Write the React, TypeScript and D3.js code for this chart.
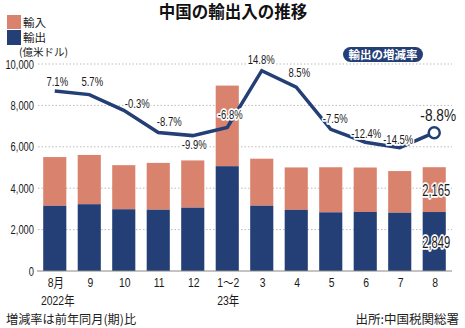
import React from "react";
import * as d3 from "d3";

const categories = ["8月", "9", "10", "11", "12", "1～2", "3", "4", "5", "6", "7", "8"];
const exportsVal = [3149, 3227, 2983, 2961, 3060, 5063, 3155, 2954, 2835, 2853, 2817, 2849];
const importsVal = [2355, 2380, 2130, 2262, 2282, 3894, 2271, 2049, 2177, 2147, 2011, 2165];
const growth = [7.1, 5.7, -0.3, -8.7, -9.9, -6.8, 14.8, 8.5, -7.5, -12.4, -14.5, -8.8];
const growthLabels = ["7.1%", "5.7%", "-0.3%", "-8.7%", "-9.9%", "-6.8%", "14.8%", "8.5%", "-7.5%", "-12.4%", "-14.5%", "-8.8%"];
const yTicks = [0, 2000, 4000, 6000, 8000, 10000];

// label offsets (dx, dy) relative to line points
const labelOffsets: [number, number][] = [
  [2.5, -5], [3, -8.6], [13.5, -2.4], [11, -6.5], [1.5, 13.4], [3, -8.5],
  [-0.5, -6.7], [3, -10.3], [4.5, -6.3], [1, -4.2], [-1.5, -3.7], [4, -11.7],
];

const NAVY = "#243f76";
const SALMON = "#d9836e";
const NUM_FONT = "'Liberation Sans', 'Noto Sans CJK JP', sans-serif";
const JP_FONT = "'Noto Sans CJK JP', sans-serif";

type NTProps = {
  x: number; y: number; size: number; anchor?: "start" | "middle" | "end";
  sx?: number; halo?: boolean; weight?: number; children: React.ReactNode;
};
function NT({ x, y, size, anchor = "middle", sx = 0.75, halo = false, weight = 400, children }: NTProps) {
  return (
    <text
      transform={`translate(${x},${y}) scale(${sx},1)`}
      textAnchor={anchor}
      fontFamily={NUM_FONT}
      fontSize={size}
      fontWeight={weight}
      fill="#1a1a1a"
      style={halo ? { paintOrder: "stroke", stroke: "#fff", strokeWidth: 3.5, strokeLinejoin: "round" } : undefined}
    >
      {children}
    </text>
  );
}

export default function App() {
  const W = 465, H = 328;
  const x = d3.scaleBand<string>().domain(categories).range([37, 452]).paddingInner(0.33).paddingOuter(0.18);
  const y = d3.scaleLinear().domain([0, 10000]).range([271, 64]);
  const yl = d3.scaleLinear().domain([-14.5, 14.8]).range([147.7, 70.7]);
  const cx = (c: string) => (x(c) as number) + x.bandwidth() / 2;
  const line = d3.line<number>().x((_, i) => cx(categories[i])).y((v) => yl(v));
  const fmt = d3.format(",");
  const last = categories.length - 1;

  return (
    <svg width={W} height={H} style={{ position: "absolute", left: 0, top: 0, background: "#fff" }}>
      <rect width={W} height={H} fill="#fff" />
      {/* title */}
      <text x={233} y={18} textAnchor="middle" fontFamily={JP_FONT} fontWeight={700} fontSize={16.5} fill="#111">
        中国の輸出入の推移
      </text>
      {/* legend */}
      <rect x={7} y={15} width={14} height={14} fill={SALMON} />
      <rect x={7} y={30} width={14} height={15} fill={NAVY} />
      <text x={23} y={27} fontFamily={JP_FONT} fontSize={11.5} fill="#222">輸入</text>
      <text x={23} y={42} fontFamily={JP_FONT} fontSize={11.5} fill="#222">輸出</text>
      <text x={19} y={56} fontFamily={JP_FONT} fontSize={10.5} fill="#222">(億米ドル)</text>

      {/* grid */}
      {yTicks.map((t) => (
        <g key={t}>
          {t !== 0 && (
            <line x1={38} x2={452} y1={y(t)} y2={y(t)} stroke="#bbb" strokeWidth={1} strokeDasharray="1.5 2" />
          )}
          <NT x={34} y={y(t) + 4.5} size={13} anchor="end" sx={0.72}>{fmt(t)}</NT>
        </g>
      ))}

      {/* bars */}
      {categories.map((c, i) => (
        <g key={c}>
          <rect x={x(c)} width={x.bandwidth()} y={y(exportsVal[i] + importsVal[i])}
            height={y(exportsVal[i]) - y(exportsVal[i] + importsVal[i])} fill={SALMON} />
          <rect x={x(c)} width={x.bandwidth()} y={y(exportsVal[i])}
            height={y(0) - y(exportsVal[i])} fill={NAVY} />
        </g>
      ))}
      <line x1={37} x2={452} y1={y(0)} y2={y(0)} stroke="#888" strokeWidth={1} />

      {/* value labels on last bar */}
      <NT x={cx(categories[last]) + 2} y={y(exportsVal[last] + importsVal[last] * 0.5) + 6} size={16.5} sx={0.68} halo>
        {fmt(importsVal[last])}
      </NT>
      <NT x={cx(categories[last]) + 2} y={y(exportsVal[last] * 0.5) + 6} size={16.5} sx={0.68} halo>
        {fmt(exportsVal[last])}
      </NT>

      {/* growth line */}
      <path d={line(growth) as string} fill="none" stroke={NAVY} strokeWidth={3.5} strokeLinejoin="miter" />
      <circle cx={cx(categories[last])} cy={yl(growth[last])} r={5.5} fill="#fff" stroke={NAVY} strokeWidth={2.5} />
      {growth.map((v, i) => (
        <NT key={i} x={cx(categories[i]) + labelOffsets[i][0]} y={yl(v) + labelOffsets[i][1]}
          size={i === last ? 16.5 : 12.5} sx={i === last ? 0.83 : 0.76} halo>
          {growthLabels[i]}
        </NT>
      ))}

      {/* pill */}
      <rect x={343} y={47} width={80} height={15} rx={7.5} fill={NAVY} />
      <text x={383} y={59} textAnchor="middle" fontFamily={JP_FONT} fontWeight={700} fontSize={11.5} fill="#fff">
        輸出の増減率
      </text>

      {/* x labels */}
      {categories.map((c) => (
        <NT key={c} x={cx(c) + 1} y={287} size={13} sx={0.8}>{c}</NT>
      ))}
      <NT x={cx(categories[0]) + 3} y={305} size={13} sx={0.8}>2022年</NT>
      <NT x={cx(categories[5]) + 1} y={305} size={13} sx={0.8}>23年</NT>

      {/* footnotes */}
      <text x={6} y={324} fontFamily={JP_FONT} fontSize={12.2} fill="#222">増減率は前年同月(期)比</text>
      <text x={459} y={324} textAnchor="end" fontFamily={JP_FONT} fontSize={12.5} fill="#222">出所:中国税関総署</text>
    </svg>
  );
}
